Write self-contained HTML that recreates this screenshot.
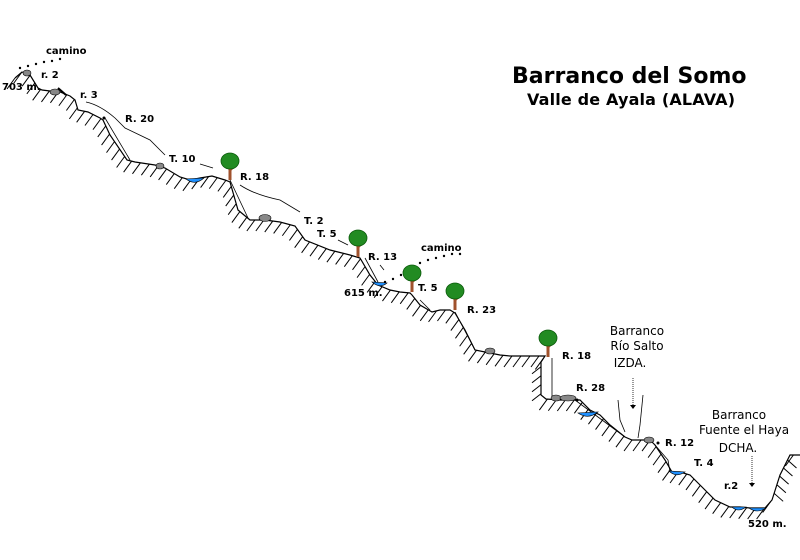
<!DOCTYPE html>
<html><head><meta charset="utf-8"><style>
html,body{margin:0;padding:0;background:#fff;width:800px;height:560px;overflow:hidden}
svg text{font-family:"DejaVu Sans","Liberation Sans",sans-serif;font-weight:bold;fill:#000}
</style></head><body>
<svg id="s" width="800" height="560" viewBox="0 0 800 560" xmlns="http://www.w3.org/2000/svg">
<g id="hatch" stroke="#000" stroke-width="1"></g>
<polyline id="prof" fill="none" stroke="#000" stroke-width="1.2" points="
15,78 22,72 30,75 38,88 42,90 50,91 60,92 70,96 75,100 78,110 88,112 100,118 103,120 110,135 127,160 135,162 155,165 165,168 180,177 190,180 200,178 212,176 225,180 230,182 238,210 250,220 265,220 280,222 295,226 305,240 330,250 350,255 360,258 370,275 378,285 390,290 400,292 410,293 412,295 420,305 432,312 440,310 450,310 455,313 465,330 475,350 485,352 500,355 510,356 545,356 541,362 541,395 546,399 560,400 575,400 580,400 590,410 600,415 610,425 625,437 632,440 640,440 650,440 655,445 665,460 672,472 680,472 690,475 700,485 715,500 730,507 740,507 750,508 765,508 772,500 780,475 790,455 800,455"/>
<g fill="none" stroke="#000" stroke-width="0.8">
<path d="M86,102 Q100,105 115,118 L125,128 L150,140 L160,150 L165,155"/>
<path d="M200,164 L213,168"/>
<path d="M240,185 Q255,195 280,200 L300,212"/>
<path d="M105,118 L130,160"/>
<path d="M230,180 L248,218"/>
<path d="M338,240 L348,245"/>
<path d="M380,265 L384,270"/>
<path d="M365,258 L378,282"/>
<path d="M420,300 L430,310"/>
<path d="M455,312 L475,350"/>
<path d="M552,358 L552,397"/>
<path d="M575,400 L625,437"/>
<path d="M655,445 L668,460 L670,472"/>
<path d="M618,400 L620,420 L625,432 M643,395 L640,425 L638,438"/>
</g>
<g fill="#000">
<circle cx="20" cy="68" r="1.2"/><circle cx="28" cy="66" r="1.2"/><circle cx="36" cy="64" r="1.2"/><circle cx="44" cy="62" r="1.2"/><circle cx="52" cy="61" r="1.2"/><circle cx="60" cy="59" r="1.2"/>
<circle cx="385" cy="282" r="1.2"/><circle cx="393" cy="279" r="1.2"/><circle cx="401" cy="275" r="1.2"/><circle cx="420" cy="263" r="1.2"/><circle cx="428" cy="260" r="1.2"/><circle cx="436" cy="258" r="1.2"/><circle cx="444" cy="256" r="1.2"/><circle cx="452" cy="254" r="1.2"/><circle cx="460" cy="254" r="1.2"/>
<circle cx="104" cy="118" r="1.5"/><circle cx="658" cy="443" r="1.5"/><circle cx="577" cy="400" r="1.5"/>
</g>
<g fill="#1e90ff" stroke="#000" stroke-width="0.6">
<path d="M186,179 Q195,186 204,178 Z"/>
<path d="M372,282 Q380,289 387,283 Z"/>
<path d="M578,413 Q588,420 598,412 Z"/>
<path d="M669,471 Q676,478 685,472 Z"/>
<path d="M732,507 Q738,513 746,507 Z"/>
<path d="M749,508 Q757,514 766,508 Z"/>
</g>
<g fill="#888" stroke="#000" stroke-width="0.6">
<ellipse cx="27" cy="73" rx="4" ry="3"/><ellipse cx="55" cy="92" rx="5" ry="3"/>
<ellipse cx="160" cy="166" rx="4" ry="3"/><ellipse cx="265" cy="218" rx="6" ry="3.5"/>
<ellipse cx="490" cy="351" rx="5" ry="3"/><ellipse cx="556" cy="398" rx="5" ry="3"/><ellipse cx="568" cy="398" rx="8" ry="3"/>
<ellipse cx="649" cy="440" rx="5" ry="3"/>
</g>
<line x1="58" y1="88" x2="66" y2="95" stroke="#000" stroke-width="2"/>
<g id="trees"></g>
<g stroke="#000" stroke-width="0.8" stroke-dasharray="1,1">
<line x1="633" y1="378" x2="633" y2="406"/><line x1="752" y1="456" x2="752" y2="484"/>
</g>
<path d="M630,405 L636,405 L633,409 Z M749,483 L755,483 L752,487 Z"/>
<g font-size="10">
<text x="46" y="54">camino</text>
<text x="41" y="78">r. 2</text>
<text x="2" y="90">703 m.</text>
<text x="80" y="98">r. 3</text>
<text x="125" y="122">R. 20</text>
<text x="169" y="162">T. 10</text>
<text x="240" y="180">R. 18</text>
<text x="304" y="224">T. 2</text>
<text x="317" y="237">T. 5</text>
<text x="368" y="260">R. 13</text>
<text x="421" y="251">camino</text>
<text x="344" y="296">615 m.</text>
<text x="418" y="291">T. 5</text>
<text x="467" y="313">R. 23</text>
<text x="562" y="359">R. 18</text>
<text x="576" y="391">R. 28</text>
<text x="665" y="446">R. 12</text>
<text x="694" y="466">T. 4</text>
<text x="724" y="489">r.2</text>
<text x="748" y="527">520 m.</text>
</g>
<g font-size="12" font-weight="normal">
<text x="637" y="335" text-anchor="middle" style="font-weight:normal">Barranco</text>
<text x="637" y="350" text-anchor="middle" style="font-weight:normal">Río Salto</text>
<text x="630" y="367" text-anchor="middle" style="font-weight:normal">IZDA.</text>
<text x="739" y="419" text-anchor="middle" style="font-weight:normal">Barranco</text>
<text x="744" y="434" text-anchor="middle" style="font-weight:normal">Fuente el Haya</text>
<text x="738" y="452" text-anchor="middle" style="font-weight:normal">DCHA.</text>
</g>
<text x="512" y="83" font-size="22">Barranco del Somo</text>
<text x="527" y="105" font-size="16" textLength="208">Valle de Ayala (ALAVA)</text>
</svg>
<script>
(function(){
var NS="http://www.w3.org/2000/svg";
var pts=document.getElementById('prof').getAttribute('points').trim().split(/\s+/).map(function(p){return p.split(',').map(Number)});
var g=document.getElementById('hatch');var acc=0,step=9;
for(var i=0;i<pts.length-1;i++){var a=pts[i],b=pts[i+1];var dx=b[0]-a[0],dy=b[1]-a[1];var L=Math.hypot(dx,dy);
 var t=acc;while(t<L){var x=a[0]+dx*t/L,y=a[1]+dy*t/L;var l=document.createElementNS(NS,'line');
 var vx=-8,vy=11; if(Math.abs(dx)<3&&dy>0){vx=-9;vy=7;} if(a[0]>768&&dx>0&&dy<0){vx=9;vy=8;}
 l.setAttribute('x1',x);l.setAttribute('y1',y);l.setAttribute('x2',x+vx);l.setAttribute('y2',y+vy);g.appendChild(l);t+=step;}
 acc=t-L;}
var trees=[[230,180],[358,257],[412,292],[455,310],[548,357]];var tg=document.getElementById('trees');
trees.forEach(function(t){var x=t[0],y=t[1];
 tg.insertAdjacentHTML('beforeend','<rect x="'+(x-1.5)+'" y="'+(y-16)+'" width="3" height="16" fill="#a0522d"/><path d="M'+x+','+(y-10)+' l-4,-4 M'+x+','+(y-9)+' l4,-4" stroke="#a0522d" stroke-width="1.5"/><ellipse cx="'+x+'" cy="'+(y-19)+'" rx="9" ry="8" fill="#228b22" stroke="#0a5a0a" stroke-width="0.8"/>');});
})();
</script>
</body></html>
